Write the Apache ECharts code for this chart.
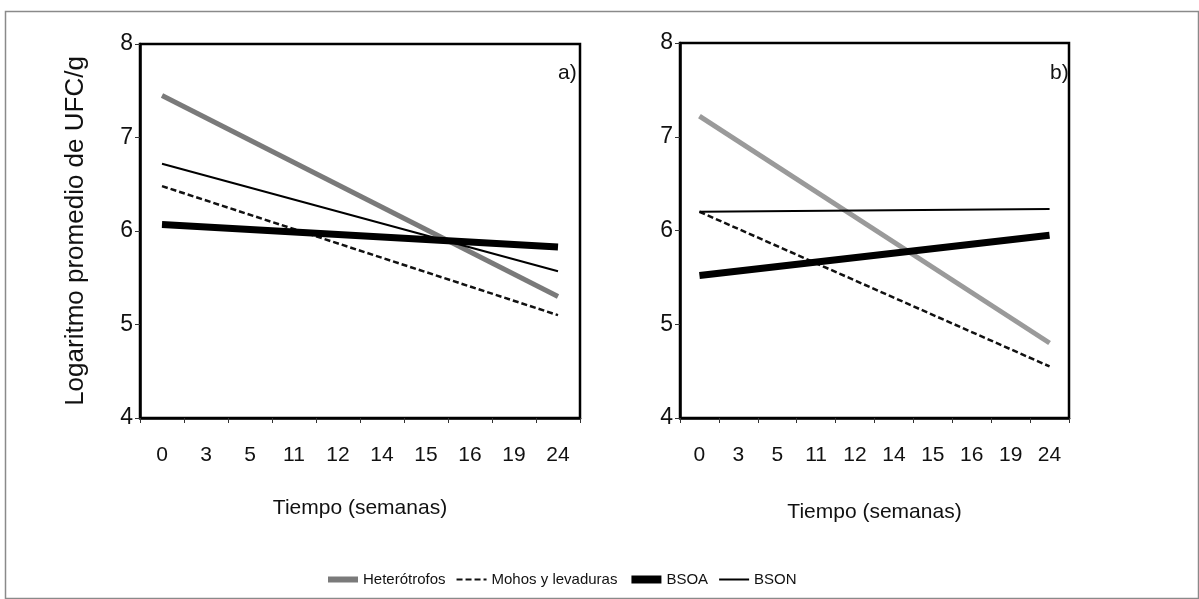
<!DOCTYPE html>
<html>
<head>
<meta charset="utf-8">
<script src="https://cdn.jsdelivr.net/npm/echarts@6/dist/echarts.min.js"></script>
<style>
  html, body { margin: 0; padding: 0; background: #fff; }
  #chart { width: 1199px; height: 599px; }
</style>
</head>
<body>
<div id="chart"></div>
<script>
// semanas (eje x, categórico)
var semanas = ['0', '3', '5', '11', '12', '14', '15', '16', '19', '24']

// a) valores de inicio (semana 0) y final (semana 24)
var heteroA = [7.45, 5.3]
var mohosA = [6.48, 5.1]
var bsoaA = [6.07, 5.83]
var bsonA = [6.72, 5.57]

// b)
var heteroB = [7.22, 4.8]
var mohosB = [6.2, 4.55]
var bsoaB = [5.52, 5.95]
var bsonB = [6.2, 6.23]

// recta de tendencia: solo primer y último punto
function recta(par) {
    var d = semanas.map(function () { return null })
    d[0] = par[0]
    d[semanas.length - 1] = par[1]
    return d
}

var fuente = 'Liberation Sans, Arial, sans-serif'

var chart = echarts.init(document.getElementById('chart'), null, { renderer: 'canvas' })

function ejeX(idx, gap) {
    return {
        type: 'category', gridIndex: idx, data: semanas, boundaryGap: true,
        name: 'Tiempo (semanas)', nameLocation: 'middle', nameGap: gap,
        nameTextStyle: { color: '#111', fontSize: 21, fontFamily: fuente },
        axisLine: { lineStyle: { color: '#000', width: 2.5 } },
        axisTick: { show: true, length: 5, lineStyle: { color: '#333', width: 1 } },
        axisLabel: { color: '#111', fontSize: 21, fontFamily: fuente, margin: 27 }
    }
}

function ejeY(idx, nombre) {
    return {
        type: 'value', gridIndex: idx, min: 4, max: 8, interval: 1,
        name: nombre, nameLocation: 'middle', nameGap: 51,
        nameTextStyle: { color: '#111', fontSize: 26, fontFamily: fuente },
        axisLine: { show: true, lineStyle: { color: '#000', width: 2.5 } },
        axisTick: { show: true, length: 5, lineStyle: { color: '#333', width: 1 } },
        axisLabel: { color: '#111', fontSize: 23, fontFamily: fuente, margin: 7 },
        splitLine: { show: false }
    }
}

function serie(nombre, datos, idx, estilo) {
    return {
        name: nombre, type: 'line', xAxisIndex: idx, yAxisIndex: idx,
        data: recta(datos), connectNulls: true, symbol: 'none', showSymbol: false,
        lineStyle: estilo, itemStyle: { color: estilo.color },
        silent: true, animation: false
    }
}

var option = {
    backgroundColor: '#fff',
    animation: false,
    graphic: [{
        type: 'rect', left: 3, top: 9,
        shape: { width: 1193, height: 587 },
        style: { fill: 'none', stroke: '#8a8a8a', lineWidth: 1.5 }
    }],
    title: [
        { text: 'a)', left: 553, top: 58, textStyle: { fontSize: 21, fontWeight: 'normal', color: '#111', fontFamily: fuente } },
        { text: 'b)', left: 1045, top: 58, textStyle: { fontSize: 21, fontWeight: 'normal', color: '#111', fontFamily: fuente } }
    ],
    grid: [
        { left: 140, top: 44, width: 440, height: 374, show: true, borderColor: '#000', borderWidth: 2.5 },
        { left: 680, top: 43, width: 389, height: 375, show: true, borderColor: '#000', borderWidth: 2.5 }
    ],
    legend: {
        left: 320, top: 567,
        itemWidth: 30, itemHeight: 10, itemGap: 10,
        itemStyle: { opacity: 0 },
        textStyle: { color: '#111', fontSize: 15, fontFamily: fuente },
        data: [
            { name: 'Heterótrofos', lineStyle: { width: 6 } },
            { name: 'Mohos y levaduras', lineStyle: { width: 2 } },
            { name: 'BSOA', lineStyle: { width: 8 } },
            { name: 'BSON', lineStyle: { width: 2 } }
        ]
    },
    xAxis: [ejeX(0, 80), ejeX(1, 84)],
    yAxis: [ejeY(0, 'Logaritmo promedio de UFC/g'), ejeY(1, '')],
    series: [
        serie('Heterótrofos', heteroA, 0, { color: '#7a7a7a', width: 5 }),
        serie('Mohos y levaduras', mohosA, 0, { color: '#111', width: 2.5, type: [6, 3] }),
        serie('BSOA', bsoaA, 0, { color: '#000', width: 7 }),
        serie('BSON', bsonA, 0, { color: '#000', width: 2 }),
        serie('Heterótrofos', heteroB, 1, { color: '#9a9a9a', width: 5 }),
        serie('Mohos y levaduras', mohosB, 1, { color: '#111', width: 2.5, type: [6, 3] }),
        serie('BSOA', bsoaB, 1, { color: '#000', width: 7 }),
        serie('BSON', bsonB, 1, { color: '#000', width: 2 })
    ]
}

chart.setOption(option)
window.addEventListener('resize', chart.resize)
</script>
</body>
</html>
